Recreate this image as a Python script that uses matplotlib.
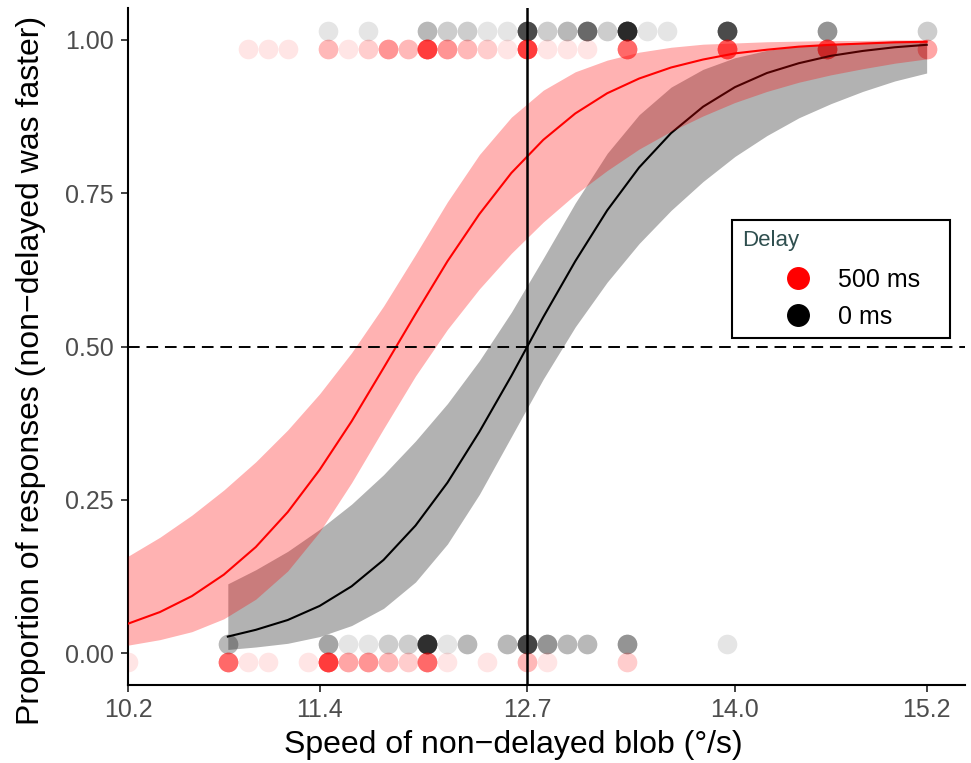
import matplotlib
matplotlib.use("Agg")
import matplotlib.pyplot as plt
from matplotlib.patches import Rectangle
from matplotlib.lines import Line2D
import numpy as np

plt.rcParams['font.family'] = ['Liberation Sans', 'DejaVu Sans']

# fitted curves and confidence bands, 500 ms delay (red)
red_x = [10.2, 10.4, 10.6, 10.8, 11.0, 11.2, 11.4, 11.6, 11.8, 12.0, 12.2, 12.4, 12.6,
         12.8, 13.0, 13.2, 13.4, 13.6, 13.8, 14.0, 14.2, 14.4, 14.6, 14.8, 15.0, 15.2]
red_fit = [0.048, 0.067, 0.093, 0.128, 0.173, 0.230, 0.299, 0.378, 0.465, 0.553, 0.639, 0.716, 0.783,
           0.837, 0.880, 0.913, 0.937, 0.955, 0.968, 0.978, 0.984, 0.989, 0.992, 0.994, 0.996, 0.997]
red_hi = [0.158, 0.189, 0.225, 0.266, 0.312, 0.364, 0.423, 0.490, 0.566, 0.650, 0.736, 0.813, 0.874,
          0.918, 0.948, 0.967, 0.980, 0.988, 0.993, 0.995, 0.997, 0.998, 0.999, 0.999, 1.000, 1.000]
red_lo = [0.013, 0.022, 0.035, 0.056, 0.088, 0.134, 0.198, 0.278, 0.366, 0.452, 0.528, 0.594, 0.652,
          0.703, 0.748, 0.787, 0.822, 0.851, 0.876, 0.898, 0.916, 0.931, 0.943, 0.953, 0.962, 0.969]

# fitted curves and confidence bands, 0 ms delay (black)
blk_x = [10.825, 11.0, 11.2, 11.4, 11.6, 11.8, 12.0, 12.2, 12.4, 12.6, 12.8, 13.0,
         13.2, 13.4, 13.6, 13.8, 14.0, 14.2, 14.4, 14.6, 14.8, 15.0, 15.2]
blk_fit = [0.027, 0.038, 0.054, 0.077, 0.109, 0.152, 0.208, 0.278, 0.361, 0.452, 0.548, 0.639,
           0.722, 0.792, 0.848, 0.891, 0.923, 0.946, 0.962, 0.974, 0.982, 0.988, 0.992]
blk_hi = [0.113, 0.136, 0.166, 0.202, 0.243, 0.291, 0.346, 0.407, 0.477, 0.556, 0.644, 0.734,
          0.815, 0.878, 0.923, 0.952, 0.971, 0.983, 0.990, 0.994, 0.996, 0.998, 0.999]
blk_lo = [0.006, 0.010, 0.016, 0.027, 0.045, 0.073, 0.116, 0.178, 0.259, 0.353, 0.447, 0.532,
          0.605, 0.668, 0.722, 0.769, 0.810, 0.844, 0.873, 0.896, 0.916, 0.933, 0.946]

# raw responses: speed and number of trials at that speed
red_yes_speed = [10.95, 11.075, 11.2, 11.45, 11.575, 11.7, 11.825, 11.95, 12.075, 12.2, 12.325,
                 12.45, 12.575, 12.7, 12.825, 12.95, 13.075, 13.325, 13.95, 14.575, 15.2]
red_yes_n = [1, 1, 1, 3, 1, 2, 5, 3, 13, 5, 3, 2, 1, 13, 1, 1, 1, 8, 10, 10, 4]
red_no_speed = [10.2, 10.825, 10.95, 11.075, 11.325, 11.45, 11.575, 11.7, 11.825, 11.95,
                12.075, 12.2, 12.45, 12.7, 12.825, 13.325]
red_no_n = [1, 8, 1, 1, 1, 13, 4, 5, 3, 2, 8, 1, 1, 3, 1, 2]
blk_yes_speed = [11.45, 11.7, 12.075, 12.2, 12.325, 12.45, 12.575, 12.7, 12.825, 12.95,
                 13.075, 13.2, 13.325, 13.45, 13.575, 13.95, 14.575, 15.2]
blk_yes_n = [1, 1, 3, 2, 2, 1, 1, 11, 2, 3, 8, 2, 16, 1, 1, 11, 5, 2]
blk_no_speed = [10.825, 11.45, 11.575, 11.7, 11.825, 11.95, 12.075, 12.2, 12.325, 12.575,
                12.7, 12.825, 12.95, 13.075, 13.325, 13.95]
blk_no_n = [3, 4, 1, 1, 2, 2, 15, 1, 3, 3, 12, 5, 3, 3, 5, 1]

x_ticks = [10.2, 11.4, 12.7, 14.0, 15.2]
x_labels = ['10.2', '11.4', '12.7', '14.0', '15.2']
y_ticks = [0.0, 0.25, 0.5, 0.75, 1.0]
y_labels = ['0.00', '0.25', '0.50', '0.75', '1.00']
legend_labels = ['500 ms', '0 ms']
legend_colors = ['red', 'black']

fig = plt.figure(figsize=(9.71, 7.63), dpi=100)
ax = fig.add_axes([0.1318, 0.1022, 0.862, 0.8873])

def dots(speed, n, y, color):
    xs = np.repeat(speed, n)
    ax.scatter(xs, np.full(len(xs), y), s=200, color=color, alpha=0.1,
               linewidths=0, zorder=1)

dots(blk_yes_speed, blk_yes_n, 1.015, 'black')
dots(red_yes_speed, red_yes_n, 0.985, 'red')
dots(blk_no_speed, blk_no_n, 0.015, 'black')
dots(red_no_speed, red_no_n, -0.015, 'red')

ax.fill_between(blk_x, blk_lo, blk_hi, color='black', alpha=0.3, linewidth=0, zorder=2)
ax.plot(blk_x, blk_fit, color='black', lw=1.5, zorder=3)
ax.fill_between(red_x, red_lo, red_hi, color='red', alpha=0.3, linewidth=0, zorder=4)
ax.plot(red_x, red_fit, color='red', lw=1.5, zorder=5)

ax.axhline(0.5, color='black', lw=1.4, linestyle=(0, (6, 3.5)), zorder=6)
ax.axvline(12.7, color='black', lw=1.8, zorder=6)

ax.set_xlim(10.2, 15.44)
ax.set_ylim(-0.052, 1.052)
ax.spines['top'].set_visible(False)
ax.spines['right'].set_visible(False)
for sp in ['left', 'bottom']:
    ax.spines[sp].set_linewidth(1.5)
ax.set_xticks(x_ticks)
ax.set_xticklabels(x_labels)
ax.set_yticks(y_ticks)
ax.set_yticklabels(y_labels)
ax.tick_params(labelsize=18, labelcolor='#4d4d4d', color='#333333', width=1.3,
               length=5, pad=4)
ax.tick_params(axis='y', pad=5)
ax.set_xlabel('Speed of non\u2212delayed blob (\u00b0/s)', fontsize=23, labelpad=6)
ax.xaxis.label.set_x(0.46)
ax.set_ylabel('Proportion of responses (non\u2212delayed was faster)', fontsize=23)
ax.yaxis.set_label_coords(-0.098, 0.465)

# legend box drawn by hand to match the layout
ft = fig.transFigure
fig.add_artist(Rectangle((0.7539, 0.5570), 0.2245, 0.1547, transform=ft,
                         facecolor='white', edgecolor='black', linewidth=1.5, zorder=10))
fig.text(0.7642, 0.6776, 'Delay', fontsize=16, color='#2f4f4f', va='baseline', zorder=11)
for i, (lab, col) in enumerate(zip(legend_labels, legend_colors)):
    yc = 0.6357 - i * 0.0485
    fig.add_artist(Line2D([0.8218], [yc], marker='o', markersize=15.5, color=col,
                          linestyle='', transform=ft, zorder=11))
    fig.text(0.8630, yc - 0.0118, lab, fontsize=18, va='baseline', zorder=11)

fig.savefig('out.png', dpi=100)
